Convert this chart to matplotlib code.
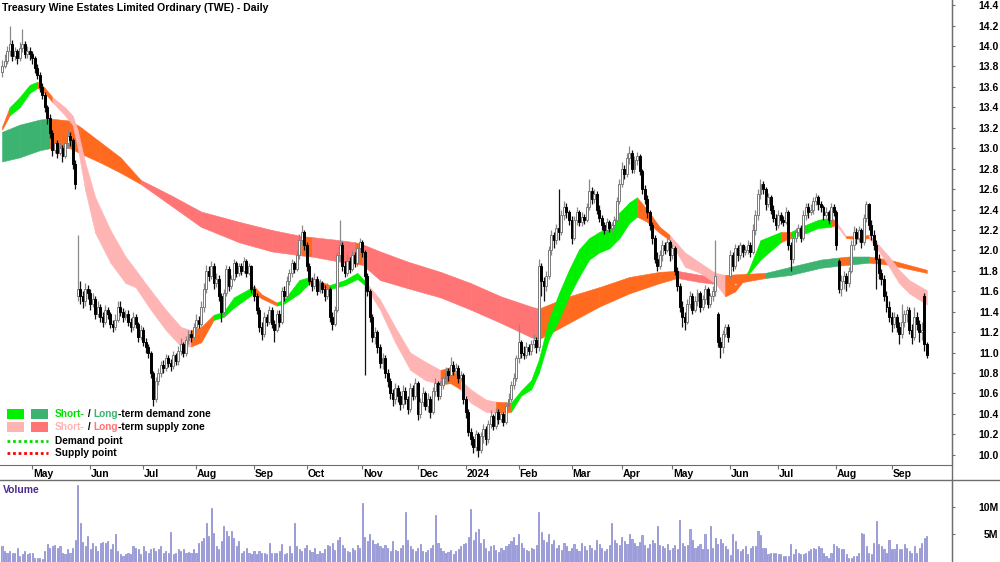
import matplotlib
matplotlib.use('Agg')
import matplotlib.pyplot as plt
import numpy as np
import pandas as pd
from matplotlib.lines import Line2D
from matplotlib.patches import Rectangle

plt.rcParams['font.family'] = ['Liberation Sans', 'DejaVu Sans']

# trading days (ASX holidays left out)
asx_holidays = ['2023-04-25', '2023-06-12', '2023-12-25', '2023-12-26', '2024-01-01',
                '2024-01-26', '2024-03-29', '2024-04-01', '2024-04-25', '2024-06-10']
dates = pd.bdate_range('2023-04-12', '2024-09-20', freq='C', holidays=asx_holidays)

# daily prices
first_open = 13.75
gap_opens = {30: 11.55, 284: 11.38, 289: 11.75, 332: 11.90, 366: 11.55}

closes = [
    13.80, 13.85, 13.95, 14.02, 13.90, 13.95, 13.88, 13.98, 14.02, 13.92,
    13.95, 13.92, 13.88, 13.78, 13.72, 13.60, 13.52, 13.40, 13.30, 13.15,
    12.98, 13.05, 12.95, 13.00, 12.92, 13.05, 13.12, 13.08, 12.85, 12.65,
    11.62, 11.55, 11.50, 11.62, 11.58, 11.48, 11.52, 11.38, 11.45, 11.35,
    11.30, 11.42, 11.38, 11.28, 11.25, 11.32, 11.45, 11.40, 11.35, 11.38,
    11.30, 11.25, 11.35, 11.28, 11.15, 11.22, 11.10, 11.05, 11.00, 10.80,
    10.55, 10.72, 10.80, 10.88, 10.85, 10.95, 10.90, 10.87, 10.98, 10.92,
    11.02, 11.08, 11.00, 11.12, 11.18, 11.15, 11.25, 11.32, 11.28, 11.45,
    11.62, 11.80, 11.75, 11.85, 11.68, 11.72, 11.55, 11.40, 11.58, 11.82,
    11.65, 11.72, 11.88, 11.78, 11.85, 11.80, 11.90, 11.78, 11.85, 11.62,
    11.55, 11.42, 11.25, 11.18, 11.35, 11.30, 11.42, 11.28, 11.22, 11.38,
    11.30, 11.60, 11.55, 11.70, 11.78, 11.88, 11.82, 11.95, 12.10, 12.18,
    12.05, 11.85, 11.70, 11.65, 11.72, 11.60, 11.68, 11.62, 11.55, 11.62,
    11.35, 11.28, 11.42, 11.95, 12.05, 11.85, 11.78, 11.90, 11.82, 11.95,
    11.88, 12.02, 12.08, 11.98, 11.75, 11.60, 11.35, 11.15, 11.20, 11.05,
    10.90, 10.95, 10.80, 10.72, 10.60, 10.55, 10.65, 10.58, 10.50, 10.62,
    10.55, 10.45, 10.65, 10.58, 10.70, 10.40, 10.52, 10.60, 10.48, 10.55,
    10.42, 10.62, 10.70, 10.58, 10.68, 10.75, 10.82, 10.78, 10.88, 10.82,
    10.85, 10.75, 10.78, 10.55, 10.42, 10.22, 10.15, 10.08, 10.20, 10.05,
    10.18, 10.25, 10.15, 10.30, 10.38, 10.28, 10.42, 10.35, 10.40, 10.32,
    10.48, 10.55, 10.68, 10.75, 10.95, 11.10, 11.00, 10.98, 11.05, 11.02,
    11.08, 11.12, 11.05, 11.85, 11.70, 11.65, 11.75, 12.00, 12.15, 12.10,
    12.22, 12.18, 12.35, 12.42, 12.38, 12.30, 12.12, 12.30, 12.38, 12.28,
    12.33, 12.30, 12.42, 12.58, 12.50, 12.55, 12.40, 12.32, 12.25, 12.20,
    12.28, 12.22, 12.25, 12.30, 12.48, 12.65, 12.80, 12.75, 12.90, 12.95,
    12.80, 12.88, 12.92, 12.78, 12.60, 12.50, 12.38, 12.25, 12.12, 11.92,
    11.85, 11.95, 12.05, 12.00, 12.08, 11.95, 12.02, 11.80, 11.65, 11.45,
    11.35, 11.30, 11.48, 11.55, 11.42, 11.50, 11.58, 11.45, 11.52, 11.62,
    11.48, 11.55, 11.60, 11.75, 11.10, 11.05, 11.18, 11.25, 11.15, 11.95,
    11.85, 12.02, 11.95, 12.05, 11.98, 12.00, 12.05, 11.98, 12.20, 12.35,
    12.55, 12.65, 12.60, 12.45, 12.52, 12.40, 12.32, 12.25, 12.35, 12.30,
    12.28, 12.38, 12.05, 11.92, 12.12, 12.18, 12.22, 12.12, 12.35, 12.42,
    12.38, 12.40, 12.48, 12.52, 12.45, 12.42, 12.35, 12.38, 12.30, 12.42,
    12.38, 12.05, 11.62, 11.70, 11.75, 11.68, 11.80, 12.05, 12.18, 12.12,
    12.20, 12.08, 12.32, 12.45, 12.25, 12.15, 12.05, 11.92, 11.78, 11.72,
    11.55, 11.45, 11.35, 11.28, 11.35, 11.25, 11.18, 11.30, 11.38, 11.42,
    11.22, 11.15, 11.35, 11.28, 11.20, 11.22, 11.08, 10.98,
]

highs = [
    13.86, 13.92, 14.00, 14.20, 14.06, 13.99, 13.97, 14.04, 14.17, 14.05,
    14.00, 13.99, 13.95, 13.90, 13.82, 13.75, 13.64, 13.55, 13.42, 13.33,
    13.18, 13.10, 13.08, 13.06, 13.03, 13.10, 13.18, 13.16, 13.10, 12.88,
    12.15, 11.70, 11.60, 11.68, 11.66, 11.62, 11.58, 11.55, 11.50, 11.48,
    11.40, 11.47, 11.45, 11.40, 11.32, 11.38, 11.50, 11.50, 11.44, 11.42,
    11.42, 11.34, 11.40, 11.38, 11.30, 11.27, 11.25, 11.14, 11.08, 11.02,
    10.82, 10.76, 10.85, 10.92, 10.93, 10.99, 10.98, 10.94, 11.02, 11.00,
    11.06, 11.14, 11.10, 11.16, 11.22, 11.22, 11.29, 11.38, 11.36, 11.50,
    11.68, 11.86, 11.85, 11.90, 11.88, 11.78, 11.76, 11.58, 11.62, 11.86,
    11.85, 11.76, 11.92, 11.90, 11.88, 11.88, 11.94, 11.92, 11.88, 11.86,
    11.66, 11.58, 11.45, 11.30, 11.40, 11.38, 11.46, 11.45, 11.32, 11.42,
    11.42, 11.64, 11.65, 11.75, 11.82, 11.92, 11.90, 12.00, 12.16, 12.25,
    12.20, 12.08, 11.88, 11.74, 11.78, 11.75, 11.72, 11.70, 11.66, 11.68,
    11.64, 11.40, 11.46, 11.98, 12.30, 12.08, 11.90, 11.96, 11.94, 12.00,
    11.98, 12.06, 12.12, 12.10, 12.00, 11.78, 11.62, 11.38, 11.25, 11.22,
    11.08, 11.00, 10.98, 10.84, 10.75, 10.64, 10.70, 10.68, 10.62, 10.68,
    10.66, 10.58, 10.70, 10.68, 10.75, 10.72, 10.56, 10.66, 10.62, 10.60,
    10.58, 10.66, 10.75, 10.72, 10.72, 10.80, 10.86, 10.85, 10.96, 10.92,
    10.90, 10.88, 10.82, 10.80, 10.58, 10.45, 10.26, 10.18, 10.24, 10.22,
    10.22, 10.30, 10.28, 10.34, 10.44, 10.40, 10.46, 10.45, 10.44, 10.42,
    10.52, 10.60, 10.72, 10.80, 10.98, 11.28, 11.12, 11.06, 11.10, 11.08,
    11.12, 11.18, 11.15, 11.92, 11.88, 11.74, 11.80, 12.04, 12.20, 12.18,
    12.26, 12.60, 12.40, 12.48, 12.46, 12.40, 12.34, 12.34, 12.42, 12.40,
    12.38, 12.36, 12.46, 12.70, 12.62, 12.60, 12.58, 12.44, 12.35, 12.28,
    12.32, 12.30, 12.28, 12.34, 12.52, 12.70, 12.86, 12.84, 12.95, 13.02,
    12.98, 12.92, 12.96, 12.94, 12.80, 12.64, 12.54, 12.40, 12.28, 12.15,
    11.98, 12.00, 12.10, 12.08, 12.12, 12.10, 12.06, 12.04, 11.84, 11.68,
    11.50, 11.40, 11.52, 11.60, 11.58, 11.55, 11.62, 11.60, 11.56, 11.66,
    11.64, 11.58, 11.65, 12.10, 11.40, 11.15, 11.22, 11.28, 11.28, 12.00,
    11.98, 12.06, 12.05, 12.08, 12.06, 12.04, 12.10, 12.08, 12.26, 12.40,
    12.60, 12.70, 12.68, 12.62, 12.56, 12.54, 12.44, 12.36, 12.40, 12.38,
    12.34, 12.42, 12.40, 12.08, 12.16, 12.22, 12.26, 12.25, 12.40, 12.46,
    12.46, 12.45, 12.52, 12.56, 12.54, 12.48, 12.44, 12.42, 12.40, 12.46,
    12.45, 12.40, 11.92, 11.76, 11.80, 11.78, 11.84, 12.10, 12.24, 12.22,
    12.24, 12.22, 12.36, 12.48, 12.46, 12.30, 12.20, 12.10, 11.96, 11.82,
    11.76, 11.60, 11.50, 11.40, 11.40, 11.38, 11.30, 11.48, 11.42, 11.46,
    11.45, 11.28, 11.45, 11.40, 11.32, 11.30, 11.58, 11.10,
]

lows = [
    13.70, 13.78, 13.82, 13.90, 13.85, 13.86, 13.82, 13.85, 13.94, 13.88,
    13.88, 13.86, 13.82, 13.74, 13.68, 13.55, 13.48, 13.35, 13.24, 13.10,
    12.92, 12.95, 12.90, 12.93, 12.86, 12.90, 13.00, 13.02, 12.80, 12.60,
    11.50, 11.48, 11.44, 11.46, 11.52, 11.42, 11.45, 11.33, 11.35, 11.30,
    11.25, 11.28, 11.33, 11.24, 11.20, 11.22, 11.30, 11.36, 11.30, 11.32,
    11.26, 11.20, 11.22, 11.24, 11.10, 11.12, 11.06, 11.00, 10.95, 10.75,
    10.48, 10.52, 10.68, 10.76, 10.80, 10.82, 10.86, 10.82, 10.84, 10.88,
    10.88, 10.98, 10.96, 10.97, 11.08, 11.10, 11.12, 11.20, 11.24, 11.26,
    11.40, 11.58, 11.70, 11.72, 11.62, 11.64, 11.50, 11.30, 11.36, 11.55,
    11.60, 11.62, 11.70, 11.74, 11.75, 11.76, 11.78, 11.74, 11.76, 11.58,
    11.50, 11.38, 11.20, 11.12, 11.15, 11.26, 11.28, 11.24, 11.10, 11.20,
    11.25, 11.28, 11.50, 11.52, 11.66, 11.74, 11.78, 11.80, 11.92, 12.05,
    12.00, 11.80, 11.66, 11.60, 11.62, 11.56, 11.58, 11.58, 11.50, 11.52,
    11.30, 11.22, 11.26, 11.40, 11.90, 11.80, 11.74, 11.75, 11.78, 11.80,
    11.84, 11.85, 11.98, 11.94, 10.78, 11.55, 11.30, 11.10, 11.08, 11.00,
    10.85, 10.84, 10.75, 10.66, 10.55, 10.48, 10.50, 10.52, 10.44, 10.46,
    10.50, 10.40, 10.42, 10.54, 10.55, 10.34, 10.36, 10.48, 10.44, 10.42,
    10.36, 10.40, 10.58, 10.54, 10.55, 10.64, 10.70, 10.72, 10.74, 10.78,
    10.78, 10.70, 10.72, 10.50, 10.36, 10.18, 10.10, 10.02, 10.04, 9.98,
    10.02, 10.12, 10.10, 10.12, 10.26, 10.24, 10.25, 10.30, 10.32, 10.28,
    10.30, 10.44, 10.52, 10.64, 10.72, 10.90, 10.95, 10.94, 10.95, 10.98,
    10.98, 11.04, 11.00, 11.02, 11.55, 11.50, 11.60, 11.72, 11.95, 12.02,
    12.06, 12.10, 12.15, 12.30, 12.32, 12.25, 12.06, 12.10, 12.25, 12.24,
    12.24, 12.26, 12.28, 12.40, 12.45, 12.46, 12.36, 12.28, 12.20, 12.16,
    12.16, 12.18, 12.18, 12.22, 12.28, 12.45, 12.62, 12.70, 12.72, 12.85,
    12.76, 12.76, 12.84, 12.74, 12.55, 12.45, 12.32, 12.20, 12.06, 11.88,
    11.80, 11.82, 11.90, 11.96, 11.98, 11.90, 11.92, 11.76, 11.60, 11.40,
    11.25, 11.22, 11.28, 11.44, 11.38, 11.40, 11.46, 11.40, 11.42, 11.48,
    11.44, 11.45, 11.50, 11.55, 11.05, 10.95, 11.00, 11.15, 11.10, 11.72,
    11.80, 11.82, 11.90, 11.92, 11.94, 11.95, 11.96, 11.94, 11.96, 12.15,
    12.30, 12.50, 12.55, 12.40, 12.42, 12.36, 12.28, 12.20, 12.22, 12.26,
    12.24, 12.26, 12.00, 11.80, 11.88, 12.08, 12.14, 12.08, 12.10, 12.30,
    12.32, 12.35, 12.36, 12.44, 12.40, 12.38, 12.30, 12.32, 12.26, 12.28,
    12.34, 12.00, 11.58, 11.55, 11.62, 11.60, 11.64, 11.78, 12.00, 12.06,
    12.08, 12.02, 12.05, 12.28, 12.20, 12.10, 12.00, 11.62, 11.72, 11.66,
    11.50, 11.40, 11.30, 11.20, 11.24, 11.20, 11.08, 11.14, 11.25, 11.30,
    11.18, 11.08, 11.12, 11.22, 11.10, 11.12, 11.02, 10.95,
]

# daily volume, millions of shares
volume_m = [
    2.9, 2.0, 1.7, 2.0, 1.7, 1.7, 2.6, 1.1, 1.4, 2.0,
    1.4, 1.7, 1.6, 0.8, 0.7, 0.7, 0.5, 2.0, 3.2, 2.6,
    2.9, 3.1, 2.6, 2.9, 1.7, 1.4, 2.3, 1.6, 2.6, 3.9,
    13.9, 7.0, 3.6, 2.9, 4.7, 2.3, 3.5, 2.9, 2.0, 3.5,
    3.6, 3.5, 3.8, 2.3, 3.2, 5.0, 2.0, 1.4, 1.1, 1.4,
    1.7, 1.4, 2.9, 2.6, 2.3, 1.4, 2.9, 2.0, 1.7, 2.3,
    2.6, 2.0, 2.4, 2.9, 1.7, 2.0, 1.7, 5.5, 1.4, 1.7,
    2.3, 2.0, 2.3, 1.7, 1.8, 1.7, 2.3, 1.6, 3.5, 3.8,
    4.4, 7.0, 4.7, 9.8, 5.3, 2.9, 2.3, 3.8, 6.5, 5.6,
    4.7, 5.6, 4.4, 2.9, 3.8, 1.7, 2.0, 2.6, 1.7, 1.4,
    2.0, 1.4, 2.0, 1.7, 1.7, 1.4, 3.5, 1.7, 1.7, 1.7,
    2.0, 3.2, 1.4, 1.7, 2.9, 1.7, 7.1, 2.9, 2.3,
    2.0, 2.5, 3.0, 2.2, 1.8, 2.6, 1.5, 2.0, 1.7, 2.4,
    3.0, 2.8, 3.5, 2.2, 4.0, 4.5, 3.0, 2.5, 2.0, 1.8,
    2.6, 2.2, 3.0, 2.5, 10.7, 4.5, 3.8, 5.0, 4.0, 3.2,
    3.5, 2.8, 2.5, 3.0, 2.6, 2.0, 3.8, 2.2, 1.9, 2.5,
    3.0, 9.0, 4.0, 2.8, 2.4, 2.0, 2.6, 3.2, 2.0, 1.8,
    2.2, 2.5, 3.0, 8.4, 3.5, 2.6, 2.0, 1.6, 1.8, 2.2,
    1.5, 2.0, 2.4, 2.8, 3.2, 3.5, 4.5, 9.5, 4.0, 5.5,
    6.0, 3.5, 4.2, 2.5, 2.0, 2.8, 3.0, 2.2, 1.8, 2.5,
    2.2, 2.8, 3.2, 3.8, 4.5, 3.0, 5.0, 3.5, 2.5, 2.2,
    2.0, 2.6, 2.4, 3.0, 9.0, 5.5, 4.0, 3.6, 5.0, 3.2,
    4.0, 2.5, 3.0, 2.2, 3.5, 2.8, 2.0, 2.6, 3.2, 2.4,
    2.0, 3.5, 2.8, 2.2, 3.0, 2.6, 2.2, 4.0, 3.2, 2.5,
    2.0, 2.4, 3.0, 7.0, 4.0, 3.5, 3.0, 4.5, 3.8, 3.2,
    5.0, 4.2, 3.5, 2.8, 3.6, 4.8, 3.0, 2.5, 3.2, 4.0,
    3.5, 6.5, 3.0, 2.8, 2.5, 3.2, 2.2, 2.6, 3.0, 2.4,
    7.5, 3.5, 2.8, 3.0, 6.0, 4.0, 2.5, 2.8, 3.2,
    2.3, 5.0, 2.3, 6.5, 2.6, 4.4, 3.2, 4.1, 3.5, 2.9,
    2.3, 1.2, 5.0, 3.8, 2.3, 2.0, 2.3, 2.9, 1.4, 2.6,
    2.9, 2.9, 5.6, 4.8, 2.6, 2.6, 1.4, 1.7, 1.7, 1.6,
    1.5, 1.4, 1.1, 1.1, 1.1, 3.3, 1.4, 2.3, 1.7, 1.4,
    1.4, 1.7, 2.0, 2.3, 2.6, 2.3, 2.9, 2.6, 1.7, 1.1,
    0.8, 1.7, 3.3, 2.9, 2.6, 2.3, 2.3, 1.4, 0.8, 0.8,
    1.1, 1.1, 1.7, 5.2, 5.0, 2.9, 1.7, 1.4, 3.4, 7.4,
    3.2, 2.9, 2.3, 1.7, 3.9, 2.3, 2.3, 3.2, 2.3, 2.3,
    3.3, 2.6, 2.0, 1.7, 2.9, 1.7, 2.6, 3.5, 4.4, 4.7,
]

# short-term zone (day index, upper edge, lower edge), colour code per segment
st_days = [0, 3, 7, 11, 14, 17, 20, 25, 28, 30, 33, 37, 43, 49, 53, 59, 65, 71, 75, 79,
           84, 88, 92, 100, 103, 109, 112, 118, 122, 130, 136, 141, 144, 150, 156, 162, 168, 174, 178, 182,
           186, 192, 196, 202, 206, 210, 213, 217, 221, 225, 229, 233, 237, 241, 245, 249, 252, 256, 261, 265,
           271, 277, 283, 287, 291, 296, 301, 309, 313, 317, 324, 329, 331, 335, 340, 344, 348, 352, 356, 360, 367]
st_top = [13.21, 13.40, 13.50, 13.62, 13.65, 13.59, 13.50, 13.40, 13.32, 13.18, 12.86, 12.52, 12.20, 11.94, 11.81, 11.61, 11.42, 11.25, 11.22, 11.25,
          11.37, 11.40, 11.54, 11.65, 11.57, 11.49, 11.52, 11.71, 11.74, 11.66, 11.71, 11.78, 11.70, 11.52, 11.25, 11.00, 10.91, 10.83, 10.86, 10.73,
          10.64, 10.54, 10.52, 10.51, 10.63, 10.73, 10.93, 11.32, 11.58, 11.81, 12.01, 12.12, 12.18, 12.23, 12.37, 12.47, 12.52, 12.40, 12.23, 12.15,
          11.98, 11.88, 11.78, 11.76, 11.66, 11.79, 12.10, 12.18, 12.18, 12.23, 12.30, 12.32, 12.28, 12.14, 12.14, 12.15, 12.05, 11.94, 11.81, 11.71, 11.61]
st_bot = [13.18, 13.32, 13.40, 13.54, 13.59, 13.54, 13.45, 13.32, 13.23, 13.01, 12.59, 12.17, 11.88, 11.68, 11.64, 11.42, 11.22, 11.06, 11.06, 11.10,
          11.32, 11.35, 11.44, 11.58, 11.53, 11.46, 11.48, 11.58, 11.68, 11.62, 11.66, 11.72, 11.66, 11.42, 11.10, 10.83, 10.73, 10.69, 10.70, 10.64,
          10.51, 10.42, 10.41, 10.42, 10.58, 10.64, 10.80, 11.13, 11.32, 11.55, 11.74, 11.91, 11.98, 12.02, 12.12, 12.27, 12.33, 12.28, 12.17, 12.10,
          11.84, 11.78, 11.68, 11.55, 11.60, 11.76, 11.91, 12.08, 12.12, 12.15, 12.22, 12.23, 12.25, 12.12, 12.11, 12.12, 11.99, 11.84, 11.68, 11.58, 11.47]
st_col = ('OGGGOOPPPP' 'PPPPPPPPOO' 'GGGOOGGGOG' 'GGPPPPPOOP'
          'PPOGGGGGGG' 'GGGGGGOOOP' 'PPPOOGGOGG' 'GOPOOPPPPP')

# long-term zone
lt_days = [0, 7, 15, 19, 27, 31, 39, 47, 55, 67, 79, 94, 107, 119, 123, 134, 140, 143, 150, 161,
           174, 186, 198, 210, 213, 225, 237, 249, 261, 268, 277, 287, 303, 313, 325, 332, 336, 344, 352, 367]
lt_top = [13.16, 13.23, 13.28, 13.29, 13.27, 13.21, 13.06, 12.91, 12.69, 12.54, 12.38, 12.28, 12.20, 12.14, 12.13, 12.10, 12.08, 12.06, 11.99, 11.89,
          11.79, 11.68, 11.55, 11.45, 11.43, 11.55, 11.64, 11.74, 11.79, 11.80, 11.76, 11.76, 11.78, 11.84, 11.91, 11.93, 11.94, 11.94, 11.91, 11.81]
lt_bot = [12.87, 12.91, 12.98, 13.00, 13.00, 12.95, 12.86, 12.76, 12.65, 12.44, 12.23, 12.08, 11.99, 11.95, 11.94, 11.89, 11.87, 11.86, 11.71, 11.63,
          11.54, 11.42, 11.29, 11.15, 11.13, 11.29, 11.45, 11.58, 11.68, 11.73, 11.69, 11.66, 11.73, 11.76, 11.83, 11.85, 11.86, 11.88, 11.86, 11.78]
lt_col = 'gggOOOOORR' 'RRRORRORRR' 'RRRROOOOOR' 'ROgggOgOO'

zone_colors = {'G': '#00F000', 'g': '#3CB371', 'P': '#FFB4B4', 'R': '#FF7474', 'O': '#FF6A1F'}

n = len(closes)
x = np.arange(n)
closes = np.array(closes)
opens = np.concatenate([[first_open], closes[:-1]])
for k, v in gap_opens.items():
    opens[k] = v
highs = np.maximum(np.array(highs), np.maximum(opens, closes))
lows = np.minimum(np.array(lows), np.minimum(opens, closes))

W, H = 1000, 562
fig = plt.figure(figsize=(W / 100, H / 100), dpi=100)
ax = fig.add_axes([0, 97 / H, 952 / W, 465 / H])
axv = fig.add_axes([0, 0, 952 / W, 82 / H])

axis_col = '#6e6e6e'
font_sz = 7.5


def fy(py):
    return 1 - py / H


# zones
def draw_zone(days, top, bot, cols):
    for k in range(len(days) - 1):
        c = zone_colors[cols[k]]
        ax.fill_between(days[k:k + 2], top[k:k + 2], bot[k:k + 2], color=c,
                        lw=0.4, edgecolor=c, zorder=1)


draw_zone(lt_days, lt_top, lt_bot, lt_col)
draw_zone(st_days, st_top, st_bot, st_col)

# candles
up = closes >= opens
wick_cols = np.where(up, '#8a8a8a', '#111111')
ax.vlines(x, lows, highs, colors=wick_cols, lw=0.9, zorder=3)
body_lo = np.minimum(opens, closes)
body_h = np.abs(closes - opens)
ax.bar(x, body_h, bottom=body_lo, width=0.78,
       color=np.where(up, 'white', 'black'),
       edgecolor=np.where(up, '#7a7a7a', 'black'), lw=0.7, zorder=4)

ax.set_xlim(-0.8, 377)
ax.set_ylim(9.90, 14.45)
for s in ['top', 'left']:
    ax.spines[s].set_visible(False)
ax.spines['bottom'].set_color(axis_col)
ax.spines['right'].set_color(axis_col)
ax.yaxis.tick_right()
ticks = np.round(np.arange(10.0, 14.41, 0.2), 1)
ax.set_yticks(ticks)
ax.set_yticklabels([f'{v:.1f}' for v in ticks])
ax.tick_params(axis='y', direction='out', length=2.5, color=axis_col, pad=31,
               labelsize=font_sz)
for lbl in ax.get_yticklabels():
    lbl.set_ha('right')
    lbl.set_fontweight('bold')

# month ticks
month_idx, month_lbl = [], []
for k in range(1, n):
    if dates[k].month != dates[k - 1].month:
        month_idx.append(k)
        month_lbl.append('2024' if dates[k].month == 1 else dates[k].strftime('%b'))
ax.set_xticks(month_idx)
ax.set_xticklabels([])
ax.tick_params(axis='x', direction='out', length=3, color=axis_col)
for k, lb in zip(month_idx, month_lbl):
    ax.text(k + 0.4, -0.019, lb, transform=ax.get_xaxis_transform(), ha='left',
            va='center', fontsize=font_sz, fontweight='bold')

# volume
axv.bar(x, np.array(volume_m) * 1e6, width=0.45, color='#a8a8e4', edgecolor='#8686cc', lw=0.5)
axv.set_xlim(-0.8, 377)
axv.set_ylim(0, 14.8e6)
for s in ['top', 'left', 'bottom']:
    axv.spines[s].set_visible(False)
axv.spines['right'].set_color(axis_col)
axv.set_xticks([])
axv.yaxis.tick_right()
axv.set_yticks([5e6, 10e6])
axv.set_yticklabels(['5M', '10M'])
axv.tick_params(axis='y', direction='out', length=2.5, color=axis_col, pad=31, labelsize=font_sz)
for lbl in axv.get_yticklabels():
    lbl.set_ha('right')
    lbl.set_fontweight('bold')

fig.add_artist(Line2D([0, 1], [82 / H, 82 / H], transform=fig.transFigure, color=axis_col, lw=1))
fig.add_artist(Line2D([952 / W, 952 / W], [0, 1], transform=fig.transFigure, color=axis_col, lw=1))

fig.text(3 / W, fy(490), 'Volume', color='#4B2C8C', fontsize=font_sz, fontweight='bold', va='center')
fig.text(2 / W, fy(8), 'Treasury Wine Estates Limited Ordinary (TWE) - Daily',
         fontsize=7.6, fontweight='bold', va='center')

# legend
for px, py, c in [(7, 409, 'G'), (31, 409, 'g'), (7, 422, 'P'), (31, 422, 'R')]:
    fig.add_artist(Rectangle((px / W, fy(py + 10)), 17 / W, 10 / H, transform=fig.transFigure,
                             color=zone_colors[c], lw=0))
fig.add_artist(Line2D([7 / W, 48 / W], [fy(441), fy(441)], transform=fig.transFigure,
                      color='#00DD00', lw=2, ls=(0, (1, 1))))
fig.add_artist(Line2D([7 / W, 48 / W], [fy(453), fy(453)], transform=fig.transFigure,
                      color='#FF0000', lw=2, ls=(0, (1, 1))))

legend_rows = [
    (414, [('Short-', '#00E000'), (' / ', 'black'), ('Long', '#3CB371'), ('-term demand zone', 'black')]),
    (427, [('Short-', '#FFB4B4'), (' / ', 'black'), ('Long', '#FF7474'), ('-term supply zone', 'black')]),
    (441, [('Demand point', 'black')]),
    (453, [('Supply point', 'black')]),
]
for py, parts in legend_rows:
    prev = fig.text(55 / W, fy(py), parts[0][0], color=parts[0][1], fontsize=7.3,
                    fontweight='bold', va='center')
    for txt, col in parts[1:]:
        prev = ax.annotate(txt, xy=(1, 0), xycoords=prev, va='bottom', ha='left',
                           color=col, fontsize=7.3, fontweight='bold', annotation_clip=False)

fig.savefig('out.png', dpi=100)
